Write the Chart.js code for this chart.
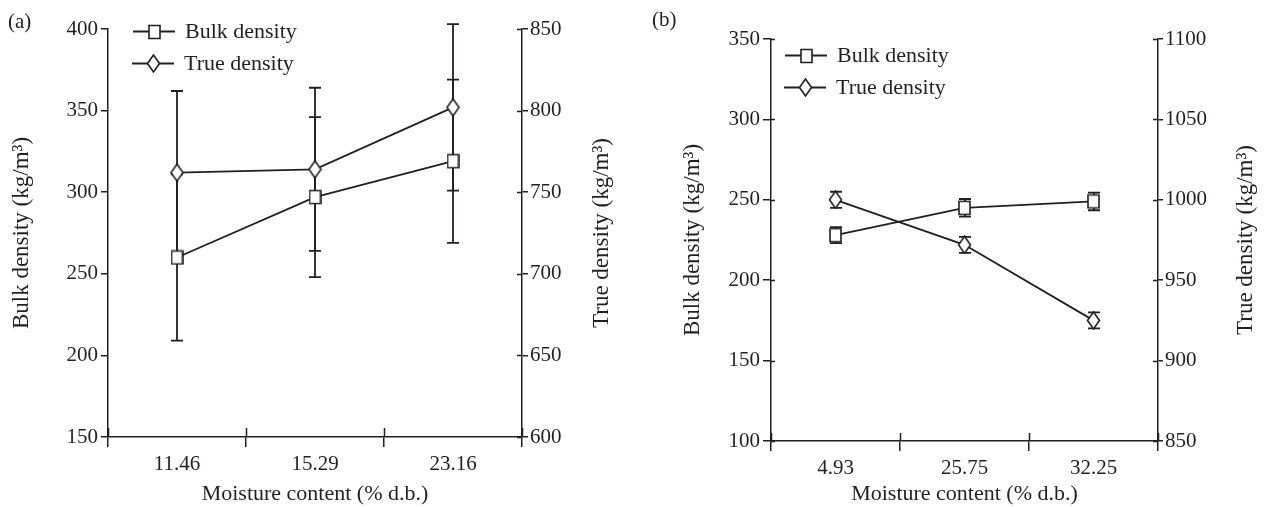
<!DOCTYPE html>
<html>
<head>
<meta charset="utf-8">
<script src="https://cdn.jsdelivr.net/npm/chart.js@4/dist/chart.umd.min.js"></script>
<style>
  html, body { margin: 0; padding: 0; background: #fff; }
  #wrap { position: relative; width: 1265px; height: 507px; }
  .box { position: absolute; top: 0; height: 507px; }
  #boxA { left: 0; width: 632px; }
  #boxB { left: 632px; width: 633px; }
</style>
</head>
<body>
<div id="wrap">
  <div class="box" id="boxA"><canvas id="chartA"></canvas></div>
  <div class="box" id="boxB"><canvas id="chartB"></canvas></div>
</div>
<script>
// ---------- data ----------
const categoriesA = ['11.46', '15.29', '23.16'];
const bulkA = [260, 297, 319];
const bulkErrA = [51, 49, 50];
const trueA = [762, 764, 802];
const trueErrA = [50, 50, 51];

const categoriesB = ['4.93', '25.75', '32.25'];
const bulkB = [228, 245, 249];
const bulkErrB = [5, 5.5, 5.5];
const trueB = [1000, 972, 925];
const trueErrB = [5, 5, 5];

const bulkTicksA = [150, 400, 50];
const trueTicksA = [600, 850, 50];
const bulkTicksB = [100, 350, 50];
const trueTicksB = [850, 1100, 50];

const seriesLabels = ['Bulk density', 'True density'];
const xTitle = 'Moisture content (% d.b.)';
const yLeftTitle = 'Bulk density (kg/m³)';
const yRightTitle = 'True density (kg/m³)';

// ---------- styles ----------
const INK = '#231f20';
const FONT = "'Liberation Serif', 'Times New Roman', serif";

function markerCanvas(kind) {
  const c = document.createElement('canvas');
  const w = kind === 'square' ? 13 : 15, h = kind === 'square' ? 16 : 19;
  c.width = w; c.height = h;
  const g = c.getContext('2d');
  g.fillStyle = '#fff'; g.strokeStyle = INK; g.lineWidth = 1.6;
  g.beginPath();
  if (kind === 'square') {
    g.rect(1, 1.5, w - 2, h - 3);
  } else {
    g.moveTo(w / 2, 1); g.lineTo(w - 1.5, h / 2); g.lineTo(w / 2, h - 1); g.lineTo(1.5, h / 2); g.closePath();
  }
  g.fill(); g.stroke();
  return c;
}
const SQ = markerCanvas('square');
const DI = markerCanvas('diamond');

const errorBarPlugin = {
  id: 'errorBars',
  beforeDatasetsDraw(chart) {
    const ctx = chart.ctx;
    ctx.save();
    ctx.strokeStyle = INK; ctx.lineWidth = 1.8;
    chart.data.datasets.forEach((ds, di) => {
      const meta = chart.getDatasetMeta(di);
      const ys = chart.scales[ds.yAxisID];
      ds.errors.forEach((e, i) => {
        const x = Math.round(meta.data[i].x);
        const y1 = ys.getPixelForValue(ds.data[i] + e);
        const y2 = ys.getPixelForValue(ds.data[i] - e);
        ctx.beginPath();
        ctx.moveTo(x, y1); ctx.lineTo(x, y2);
        ctx.moveTo(x - 6, y1); ctx.lineTo(x + 6, y1);
        ctx.moveTo(x - 6, y2); ctx.lineTo(x + 6, y2);
        ctx.stroke();
      });
    });
    ctx.restore();
  }
};

const decorPlugin = {
  id: 'decor',
  afterDraw(chart, args, opts) {
    const ctx = chart.ctx;
    const ca = chart.chartArea;
    ctx.save();
    ctx.strokeStyle = INK; ctx.lineWidth = 1.5;
    // inward tick extensions
    const xs = chart.scales.x;
    const n = xs.ticks.length;
    const step = (ca.right - ca.left) / n;
    ctx.beginPath();
    for (let i = 0; i <= n; i++) {
      const px = Math.round(xs.left + i * step) + 0.5;
      ctx.moveTo(px, ca.bottom); ctx.lineTo(px, ca.bottom - opts.xIn);
    }
    ['yL', 'yR'].forEach(id => {
      const s = chart.scales[id];
      const inLen = id === 'yL' ? opts.lIn : opts.rIn;
      if (!inLen) return;
      s.ticks.forEach((t, i) => {
        const py = Math.round(s.getPixelForTick(i)) + 0.5;
        if (id === 'yL') { ctx.moveTo(ca.left, py); ctx.lineTo(ca.left + inLen, py); }
        else { ctx.moveTo(ca.right, py); ctx.lineTo(ca.right - inLen, py); }
      });
    });
    ctx.stroke();
    // legend
    ctx.fillStyle = INK;
    ctx.lineWidth = 1.8;
    ctx.font = `22px ${FONT}`;
    ctx.textBaseline = 'middle';
    chart.data.datasets.forEach((ds, di) => {
      const lx = ca.left + opts.legX + (di === 1 ? -1 : 0);
      const ly = Math.round(ca.top + opts.legY + di * 32) + 0.5;
      ctx.beginPath();
      ctx.moveTo(lx, ly); ctx.lineTo(lx + 42, ly);
      ctx.stroke();
      const img = ds.pointStyle;
      ctx.drawImage(img, Math.round(lx + 21 - img.width / 2), Math.round(ly - img.height / 2));
      ctx.fillText(ds.label, lx + 52, ly + 1);
    });
    // right-axis title, reading bottom-to-top like the left one
    ctx.save();
    ctx.font = `23px ${FONT}`;
    ctx.textAlign = 'center';
    ctx.translate(opts.rTitleX, (ca.top + ca.bottom) / 2);
    ctx.rotate(-Math.PI / 2);
    ctx.fillText(yRightTitle, 0, 0);
    ctx.restore();
    // panel label
    ctx.font = `21px ${FONT}`;
    ctx.textAlign = 'left';
    ctx.fillText(opts.panel, opts.panelX, opts.panelY);
    ctx.restore();
  }
};

function makeChart(id, cats, bulk, bulkErr, tru, truErr, bt, tt, geo) {
  const tickFont = { family: FONT, size: 21 };
  return new Chart(document.getElementById(id), {
    type: 'line',
    data: {
      labels: cats,
      datasets: [
        { label: seriesLabels[0], data: bulk, errors: bulkErr, yAxisID: 'yL',
          borderColor: INK, borderWidth: 1.8, pointStyle: SQ, pointRadius: 7, tension: 0 },
        { label: seriesLabels[1], data: tru, errors: truErr, yAxisID: 'yR',
          borderColor: INK, borderWidth: 1.8, pointStyle: DI, pointRadius: 7, tension: 0 }
      ]
    },
    options: {
      responsive: true,
      maintainAspectRatio: false,
      animation: false,
      events: [],
      layout: { padding: { top: geo.top, left: 0, right: 0, bottom: 0 } },
      plugins: {
        legend: { display: false },
        tooltip: { enabled: false },
        decor: geo.decor
      },
      scales: {
        x: {
          type: 'category',
          offset: true,
          grid: { offset: true, drawOnChartArea: false, drawTicks: true, tickLength: 10, color: INK, lineWidth: 1.5 },
          border: { display: true, color: INK, width: 1.5 },
          ticks: { color: INK, font: tickFont, padding: 5, maxRotation: 0 },
          title: { display: true, text: xTitle, color: INK, font: { family: FONT, size: 22 }, padding: { top: 0, bottom: 0 } },
          afterFit: s => { s.height = geo.xH; }
        },
        yL: {
          type: 'linear', position: 'left', min: bt[0], max: bt[1],
          ticks: { stepSize: bt[2], color: INK, font: tickFont, padding: 3, callback: v => String(v) },
          grid: { drawOnChartArea: false, drawTicks: true, tickLength: geo.lOut, color: INK, lineWidth: 1.5 },
          border: { display: true, color: INK, width: 1.5 },
          title: { display: true, text: yLeftTitle, color: INK, font: { family: FONT, size: 23 }, padding: { top: geo.lTitlePad, bottom: 0 } },
          afterFit: s => { s.width = geo.lW; }
        },
        yR: {
          type: 'linear', position: 'right', min: tt[0], max: tt[1],
          ticks: { stepSize: tt[2], color: INK, font: tickFont, padding: 2, callback: v => String(v) },
          grid: { drawOnChartArea: false, drawTicks: true, tickLength: geo.rOut, color: INK, lineWidth: 1.5 },
          border: { display: true, color: INK, width: 1.5 },
          title: { display: false },
          afterFit: s => { s.width = geo.rW; }
        }
      }
    },
    plugins: [errorBarPlugin, decorPlugin]
  });
}

makeChart('chartA', categoriesA, bulkA, bulkErrA, trueA, trueErrA, bulkTicksA, trueTicksA, {
  top: 29, xH: 70, lW: 108, rW: 110, lOut: 7, rOut: 6, lTitlePad: 8,
  decor: { xIn: 9, lIn: 0, rIn: 5, legX: 25, legY: 2, rTitleX: 602, panel: '(a)', panelX: 8, panelY: 22 }
});
makeChart('chartB', categoriesB, bulkB, bulkErrB, trueB, trueErrB, bulkTicksB, trueTicksB, {
  top: 39, xH: 66, lW: 139, rW: 107, lOut: 8, rOut: 5, lTitlePad: 47,
  decor: { xIn: 8, lIn: 4, rIn: 5, legX: 14, legY: 16, rTitleX: 614, panel: '(b)', panelX: 20, panelY: 20 }
});
</script>
</body>
</html>
